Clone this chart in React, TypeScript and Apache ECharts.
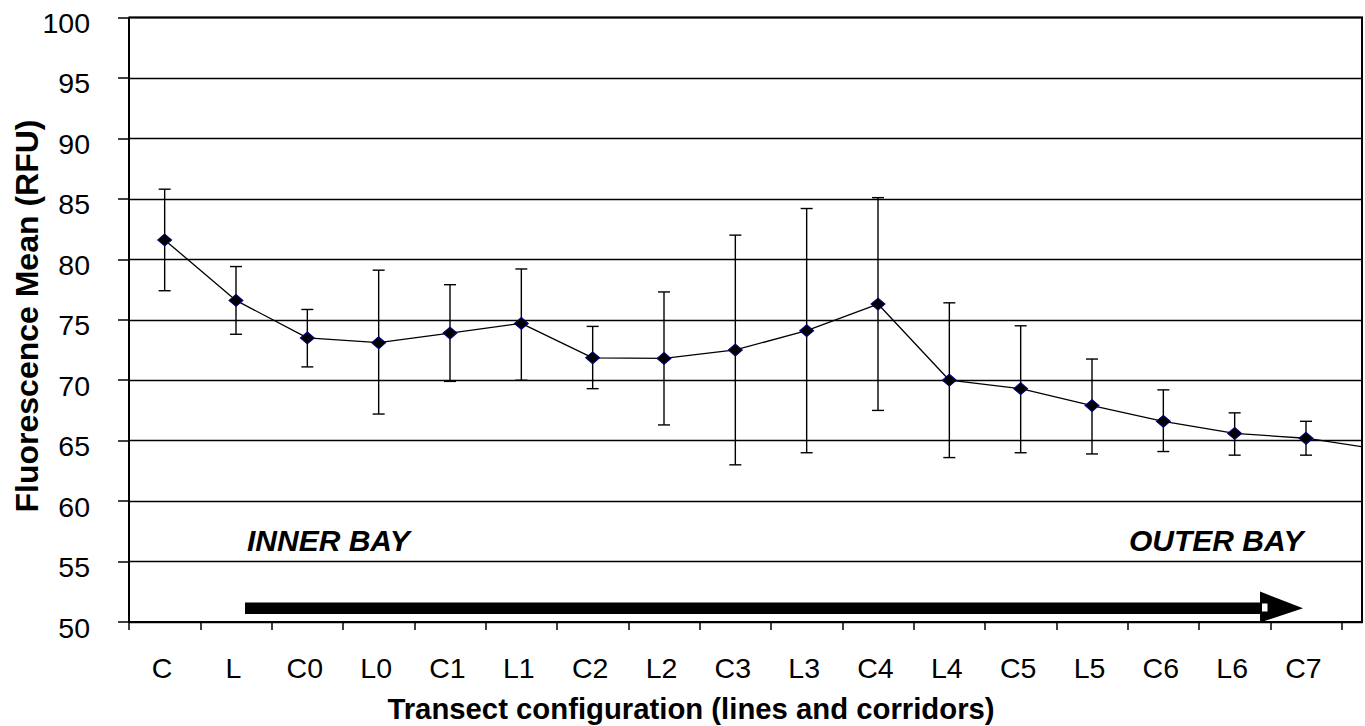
import React, { useEffect, useRef } from "react";
import * as echarts from "echarts";

const categories = ["C", "L", "C0", "L0", "C1", "L1", "C2", "L2", "C3", "L3", "C4", "L4", "C5", "L5", "C6", "L6", "C7", ""];
const means = [81.6, 76.6, 73.5, 73.1, 73.9, 74.7, 71.85, 71.8, 72.5, 74.1, 76.3, 70.0, 69.3, 67.9, 66.6, 65.6, 65.2, 64.3];
const upperBars = [85.8, 79.4, 75.85, 79.1, 77.9, 79.2, 74.45, 77.3, 82.0, 84.2, 85.1, 76.4, 74.5, 71.75, 69.2, 67.3, 66.6, null];
const lowerBars = [77.4, 73.8, 71.1, 67.2, 69.9, 70.0, 69.3, 66.3, 63.0, 64.0, 67.5, 63.6, 64.0, 63.9, 64.1, 63.8, 63.8, null];
const yTicks = { min: 50, max: 100, interval: 5 };
const yTitle = "Fluorescence Mean (RFU)";
const xTitle = "Transect configuration (lines and corridors)";
const leftNote = "INNER BAY";
const rightNote = "OUTER BAY";

const FONT = "'Liberation Sans', Arial, Helvetica, sans-serif";

export default function App() {
  const ref = useRef<HTMLDivElement>(null);
  useEffect(() => {
    if (!ref.current) return;
    const chart = echarts.init(ref.current, undefined, { renderer: "svg" });
    const errData: any[] = [];
    categories.forEach((_, i) => {
      if (upperBars[i] != null && lowerBars[i] != null) errData.push([i, upperBars[i], lowerBars[i]]);
    });
    const option: any = {
      animation: false,
      backgroundColor: "#ffffff",
      grid: { left: 129, top: 17.5, width: 1284, height: 604.5, containLabel: false, outerBoundsMode: "none" },
      xAxis: {
        type: "category",
        data: categories,
        boundaryGap: true,
        axisLine: { show: true, lineStyle: { color: "#000", width: 2 } },
        axisTick: { show: true, length: 8, interval: 0, lineStyle: { color: "#000", width: 1.5 } },
        axisLabel: { interval: 0, fontSize: 28.5, color: "#000", fontFamily: FONT, margin: 31, padding: [0, 5, 0, 0] },
        splitLine: { show: false },
      },
      yAxis: {
        type: "value",
        min: yTicks.min,
        max: yTicks.max,
        interval: yTicks.interval,
        axisLine: { show: true, lineStyle: { color: "#000", width: 2 } },
        axisTick: { show: true, length: 11, lineStyle: { color: "#000", width: 1.5 } },
        axisLabel: { fontSize: 28.5, color: "#000", fontFamily: FONT, margin: 39, verticalAlign: "top", lineHeight: 11 },
        splitLine: { show: true, lineStyle: { color: "#000", width: 1.4 } },
      },
      series: [
        {
          type: "custom",
          z: 1,
          data: errData,
          renderItem: (params: any, api: any) => {
            const x = api.value(0);
            const hi = api.coord([x, api.value(1)]);
            const lo = api.coord([x, api.value(2)]);
            const w = 6;
            const st = { stroke: "#000", lineWidth: 1.4 };
            return {
              type: "group",
              children: [
                { type: "line", shape: { x1: hi[0], y1: hi[1], x2: lo[0], y2: lo[1] }, style: st },
                { type: "line", shape: { x1: hi[0] - w, y1: hi[1], x2: hi[0] + w, y2: hi[1] }, style: st },
                { type: "line", shape: { x1: lo[0] - w, y1: lo[1], x2: lo[0] + w, y2: lo[1] }, style: st },
              ],
            };
          },
        },
        {
          type: "line",
          z: 3,
          data: means,
          symbol: "diamond",
          symbolSize: [14, 12],
          showSymbol: true,
          itemStyle: { color: "#000", borderColor: "#000080", borderWidth: 1 },
          lineStyle: { color: "#000", width: 1.3 },
        },
      ],
      graphic: [
        { type: "line", z: 10, shape: { x1: 1362, y1: 17, x2: 1362, y2: 623 }, style: { stroke: "#000", lineWidth: 2 } },
        { type: "line", z: 10, shape: { x1: 129, y1: 17.5, x2: 1363, y2: 17.5 }, style: { stroke: "#000", lineWidth: 2 } },
        { type: "rect", z: 10, shape: { x: 245, y: 602.5, width: 1018, height: 11.5 }, style: { fill: "#000" } },
        { type: "polygon", z: 10, shape: { points: [[1260, 591.5], [1303, 608.3], [1260, 622.5]] }, style: { fill: "#000" } },
        { type: "rect", z: 11, shape: { x: 1262, y: 603.5, width: 5.5, height: 8 }, style: { fill: "#fff" } },
        {
          type: "text", z: 10, x: 247, y: 540,
          style: { text: leftNote, font: `italic bold 30px ${FONT}`, fill: "#000", textAlign: "left", textVerticalAlign: "middle" },
        },
        {
          type: "text", z: 10, x: 1129, y: 540,
          style: { text: rightNote, font: `italic bold 30px ${FONT}`, fill: "#000", textAlign: "left", textVerticalAlign: "middle" },
        },
        {
          type: "text", z: 10, x: 691, y: 708,
          style: { text: xTitle, font: `bold 29.3px ${FONT}`, fill: "#000", textAlign: "center", textVerticalAlign: "middle" },
        },
        {
          type: "text", z: 10, x: 27, y: 316, rotation: Math.PI / 2,
          style: { text: yTitle, font: `bold 32px ${FONT}`, fill: "#000", textAlign: "center", textVerticalAlign: "middle" },
        },
      ],
    };
    chart.setOption(option);
    return () => chart.dispose();
  }, []);
  return <div ref={ref} style={{ position: "absolute", left: 0, top: 0, width: 1363, height: 726 }} />;
}
